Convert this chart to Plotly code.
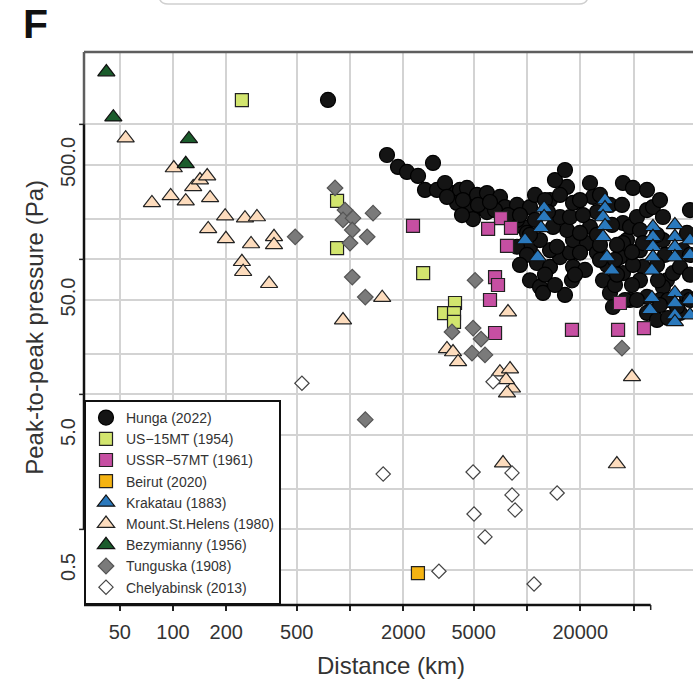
import plotly.graph_objects as go

# ---------------- data (distance km, peak-to-peak pressure Pa) ----------------
hunga_km = [751, 1618, 1867, 2099, 2423, 2653, 2944, 3101, 3818, 4182,
            4581, 5218, 5943, 7038, 4022, 4764, 5641, 4953, 5943, 7510,
            6596, 8781, 10397, 8334, 9494, 8781, 10000, 10397, 8781, 10000,
            11390, 10397, 11840, 12315, 16390, 13490, 15360, 17500, 18200, 16830,
            14030, 15360, 17500, 18200, 16830, 14390, 16390, 22700, 23600, 34860,
            39710, 22700, 21830, 24860, 26880, 29440, 30610, 34860, 36730, 38190,
            34860, 41830, 43480, 47640, 51510, 43480, 45230, 45230, 43480, 47640,
            47640, 54270, 61800, 66820, 73170, 76080, 80170, 73170, 80170, 33530,
            34860, 13490, 11840, 58650, 70380, 58650, 58650, 18200, 19930, 19930,
            14770, 39710, 38190, 56410, 62600, 83350, 83350, 28310, 24860, 13490,
            11100, 30210, 32250,
            3441, 3532, 4348, 5287, 6180, 4293, 7810, 9130, 11100, 12640,
            15360, 19930, 10397, 12640, 14390, 17950, 21270, 25850, 31420, 24860,
            31420, 35790, 41830, 54270, 60220, 54270, 62600, 83350, 83350, 47640,
            56410, 29440, 34410, 20720, 13140,
            25850, 39200, 32250, 39200, 54980, 56410, 25850, 18670, 9130]
hunga_pa = [1516, 593, 484, 444, 415, 327, 518, 327, 310, 327,
            338, 300, 310, 290, 262, 244, 240, 199, 224, 244,
            232, 253, 244, 206, 174, 196, 157, 124, 124, 108,
            94, 70, 62.5, 56.4, 54.5, 88, 104, 112, 139, 165,
            174, 206, 206, 262, 344, 387, 459, 368, 290, 368,
            338, 174, 132, 112, 70, 56.4, 44.4, 186, 139, 174,
            132, 206, 165, 232, 244, 117, 132, 88, 70, 52.7,
            40.1, 35.6, 70, 79, 88, 117, 157, 40.1, 52.7, 104,
            79, 117, 139, 139, 44.4, 62.5, 206, 88, 112, 157,
            124, 91, 50, 50, 36.8, 77, 232, 91, 224, 275,
            196, 180, 128,
            368, 290, 275, 253, 266, 213, 213, 213, 300, 275,
            300, 275, 152, 77, 64.6, 70, 83.5, 99, 99, 152,
            64.6, 50, 50, 152, 108, 91, 50, 108, 50, 327,
            275, 253, 253, 213, 224,
            128, 113, 77, 64.6, 70, 45.9, 300, 77, 91]

us15_km = [245, 845, 845, 2590, 3920, 3400, 3870, 3870]
us15_pa = [1510, 271, 121, 79, 47.5, 40, 40, 34.4]

ussr57_km = [2270, 7130, 6030, 8120, 7710, 6600, 6860, 6180, 6600, 17950, 32700, 45800, 33500]
ussr57_pa = [177, 202, 168, 171, 126, 74, 64.6, 50, 28.5, 30, 30, 31, 47.5]

beirut_km = [2420]
beirut_pa = [0.475]

krakatau_km = [12500, 12500, 12000, 9750, 11500,
               27600, 27600, 26900, 27600, 26900, 28300, 30200,
               51500, 51500, 51500, 51500, 50800, 50800, 49500,
               68500, 68500, 68500, 68500, 68500, 68500, 68500, 68500,
               83400, 83400, 83400, 83400]
krakatau_pa = [240, 206, 171, 139, 104,
               275, 240, 206, 177, 147, 104, 83,
               174, 147, 124, 104, 83, 51.8, 42.2,
               180, 147, 124, 104, 56.4, 47.5, 38.7, 34.4,
               139, 108, 50, 38.7]

sthelens_km = [54, 101, 76, 97, 118, 130, 142, 156, 162, 197,
               255, 298, 158, 199, 276, 372, 372, 245, 249, 349,
               1520, 913, 3530, 3820, 4080, 7810, 7030, 8020, 8230, 7710,
               7610, 39200, 7320, 32200]
sthelens_pa = [790, 475, 262, 295, 270, 344, 387, 414, 285, 209,
               202, 206, 168, 142, 130, 147, 128, 96, 81, 66,
               52, 35.5, 21.7, 20.6, 17.4, 40.7, 14.6, 15.4, 11.1, 10.2,
               12.8, 13.5, 3.1, 3.05]

bezym_km = [42, 46, 123, 118]
bezym_pa = [2440, 1130, 780, 510]

tunguska_km = [490, 823, 937, 913, 1040, 1350, 1030, 1250, 1000, 1030,
               1220, 5090, 3770, 4960, 5500, 4890, 5790, 34400, 1220]
tunguska_pa = [147, 338, 232, 196, 202, 220, 165, 147, 132, 74,
               52.6, 70, 29, 31, 25.7, 20.2, 19.6, 22, 6.5]

chely_km = [535, 1540, 3180, 6430, 4960, 8230, 8230, 8560, 5020, 5790, 14800, 10960]
chely_pa = [12.1, 2.57, 0.49, 12.4, 2.66, 2.62, 1.8, 1.39, 1.3, 0.88, 1.86, 0.394]

x_grid = [50, 100, 200, 500, 1000, 2000, 5000, 10000, 20000, 40000]
x_labels = ["50", "100", "200", "500", "", "2000", "5000", "", "20000", ""]
y_grid = [0.5, 1, 2, 5, 10, 20, 50, 100, 200, 500, 1000]
y_labels = ["0.5", "", "", "5.0", "", "", "50.0", "", "", "500.0", ""]
y_ticks = [1, 10, 100, 1000]
x_axis_end = 50000

x_range = [1.497, 4.938]
y_range = [-0.560, 3.536]

series = [
    ("Hunga (2022)", hunga_km, hunga_pa, "circle", 15, "#141414", "#000000"),
    ("US\u221215MT (1954)", us15_km, us15_pa, "square", 13, "#d2e56e", "#222222"),
    ("USSR\u221257MT (1961)", ussr57_km, ussr57_pa, "square", 13, "#c64fa2", "#222222"),
    ("Beirut (2020)", beirut_km, beirut_pa, "square", 13, "#f4b312", "#222222"),
    ("Krakatau (1883)", krakatau_km, krakatau_pa, "triangle-up", 15, "#2a79bd", "#111111"),
    ("Mount.St.Helens (1980)", sthelens_km, sthelens_pa, "triangle-up", 15, "#fddcbd", "#222222"),
    ("Bezymianny (1956)", bezym_km, bezym_pa, "triangle-up", 15, "#1b5c2c", "#111111"),
    ("Tunguska (1908)", tunguska_km, tunguska_pa, "diamond", 12, "#7a7a7a", "#555555"),
    ("Chelyabinsk (2013)", chely_km, chely_pa, "diamond", 11, "#ffffff", "#444444"),
]

fig = go.Figure()
for name, xs, ys, sym, size, col, edge in series:
    fig.add_trace(go.Scatter(
        x=xs, y=ys, mode="markers", name=name,
        marker=dict(symbol=sym, size=size, color=col, line=dict(color=edge, width=1.2)),
        cliponaxis=True,
    ))

FONT = "Liberation Sans, Arial, Helvetica, sans-serif"
fig.update_layout(
    width=693, height=681,
    margin=dict(l=84, r=0, t=52, b=76),
    paper_bgcolor="white", plot_bgcolor="white",
    font=dict(family=FONT, color="#333333"),
    showlegend=True,
    legend=dict(x=0, y=0, xanchor="left", yanchor="bottom",
                bgcolor="white", bordercolor="#111111", borderwidth=2,
                font=dict(size=14, color="#333333", family=FONT),
                itemsizing="trace", tracegroupgap=0,
                entrywidth=178, entrywidthmode="pixels"),
    xaxis=dict(type="log", range=x_range, tickvals=x_grid, ticktext=x_labels,
               showgrid=True, gridcolor="#d3d3d3", gridwidth=2,
               ticks="outside", ticklen=5, tickcolor="#222222", tickwidth=1.5,
               showline=False, zeroline=False,
               tickfont=dict(size=20, color="#333333"), ticklabelstandoff=4),
    yaxis=dict(type="log", range=y_range, tickvals=y_grid, ticktext=y_labels,
               showgrid=True, gridcolor="#d3d3d3", gridwidth=2,
               ticks="", showline=False, zeroline=False, tickangle=-90,
               tickfont=dict(size=20, color="#333333"), ticklabelstandoff=4),
)

y_top = 10 ** y_range[1]
x_left = 10 ** x_range[0]
shapes = [
    dict(type="line", xref="paper", yref="paper", x0=0, x1=1, y0=1, y1=1,
         line=dict(color="#5e5e5e", width=2.5)),
    dict(type="line", xref="paper", yref="y", x0=0, x1=0, y0=y_ticks[-1], y1=y_top,
         line=dict(color="#5e5e5e", width=2.5)),
    dict(type="line", xref="paper", yref="y", x0=0, x1=0, y0=y_ticks[0], y1=y_ticks[-1],
         line=dict(color="#111111", width=2.5)),
    dict(type="line", xref="x", yref="paper", x0=x_left, x1=x_axis_end, y0=0, y1=0,
         line=dict(color="#111111", width=2.5)),
    dict(type="line", xref="x", yref="paper", x0=x_axis_end, x1=x_axis_end, y0=0, y1=-0.009,
         line=dict(color="#222222", width=1.5)),
]
for v in y_ticks:
    shapes.append(dict(type="line", xref="paper", yref="y", x0=-0.008, x1=0, y0=v, y1=v,
                       line=dict(color="#222222", width=1.5)))
# partial rounded box of the neighbouring panel above
L, R, B, T, rx, ry = 0.1232, 0.8276, 1.0868, 1.14, 0.0148, 0.0163
shapes.append(dict(type="path", xref="paper", yref="paper",
                   path=f"M{L},{T} L{L},{B+ry} Q{L},{B} {L+rx},{B} L{R-rx},{B} Q{R},{B} {R},{B+ry} L{R},{T}",
                   line=dict(color="#cfcfcf", width=1.5)))
fig.update_layout(shapes=shapes)

fig.add_annotation(text="<b>F</b>", xref="paper", yref="paper", x=-0.103, y=1.05,
                   xanchor="left", yanchor="middle", showarrow=False,
                   font=dict(size=41, color="#111111", family=FONT))
fig.add_annotation(text="Peak-to-peak pressure (Pa)", xref="paper", yref="paper",
                   x=-0.0805, y=0.503, textangle=-90, showarrow=False,
                   xanchor="center", yanchor="middle",
                   font=dict(size=24, color="#333333", family=FONT))
fig.add_annotation(text="Distance (km)", xref="paper", yref="paper",
                   x=0.504, y=-0.1085, showarrow=False,
                   xanchor="center", yanchor="middle",
                   font=dict(size=24, color="#333333", family=FONT))

fig.write_html("out.html")
